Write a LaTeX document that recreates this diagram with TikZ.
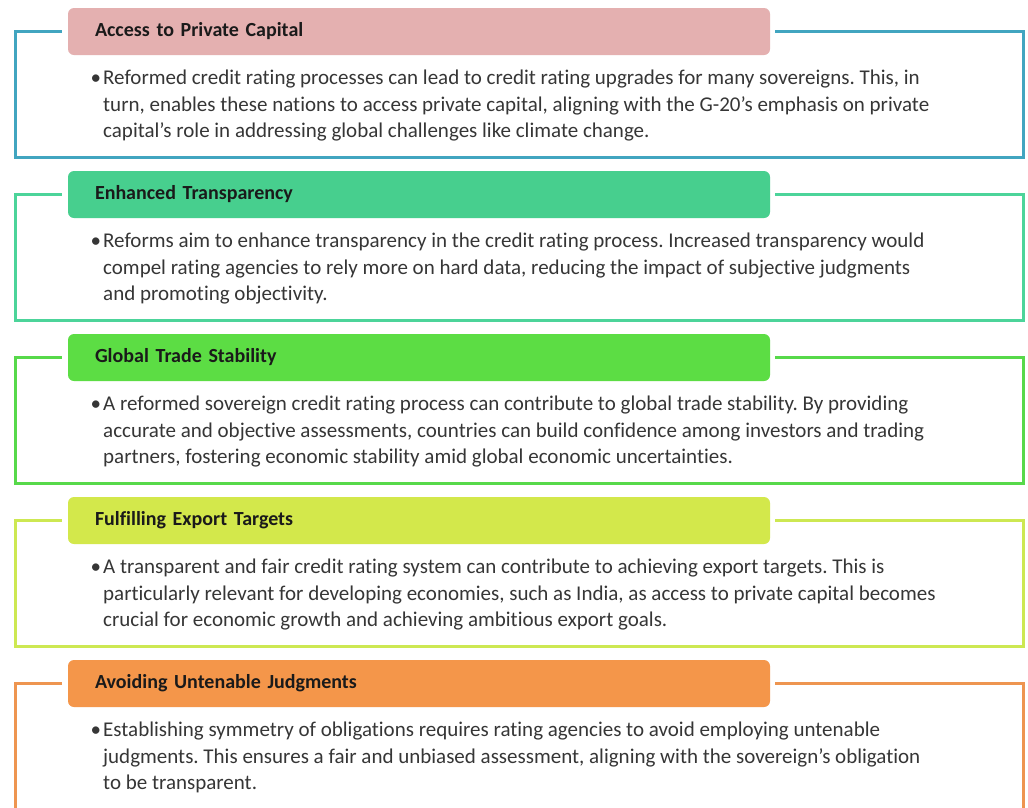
\documentclass[tikz,border=0pt]{standalone}
\usepackage{fontspec}
\setmainfont{Carlito}[Ligatures={NoCommon}]
\frenchspacing
\definecolor{fA}{HTML}{41A5C0}\definecolor{hA}{HTML}{E4B0B0}
\definecolor{fB}{HTML}{4CD49A}\definecolor{hB}{HTML}{47CF8E}
\definecolor{fC}{HTML}{57D94A}\definecolor{hC}{HTML}{5CDD44}
\definecolor{fD}{HTML}{CDE852}\definecolor{hD}{HTML}{D3E84B}
\definecolor{fE}{HTML}{EE9550}\definecolor{hE}{HTML}{F4964A}
\definecolor{bodytxt}{HTML}{363636}
\definecolor{titletxt}{HTML}{1A1A1A}
\tikzset{
  header/.style={draw=none, fill=#1, rounded corners=6pt, minimum width=702pt, minimum height=47pt,
    text width=648pt, inner xsep=27pt, align=left, font=\fontsize{20}{22}\selectfont\bfseries, text=titletxt},
  bodytext/.style={anchor=north west, inner sep=0pt, align=left, text=bodytxt,
    font=\fontsize{21}{26.5}\selectfont\frenchspacing},
  frame/.style={draw=#1, line width=3pt}
}
\newcommand\mypanel[6]{%
  \node[header=#4] (h#1) at (419,31.5+#2) {#5};
  \node[bodytext] (b#1) at (103,66.2+#2) {\strut\llap{\textbullet\hspace{2pt}}#6};
  \draw[frame=#3] ([xshift=-6pt]h#1.west) -- (15,31.5+#2) -- (15,157+#2) -- (1023,157+#2) -- (1023,31.5+#2) -- ([xshift=5pt]h#1.east);
}
\begin{document}
\begin{tikzpicture}[x=1pt,y=-1pt]
\useasboundingbox (0,0) rectangle (1028,807);
\clip (0,0) rectangle (1028,807);
\fill[white] (0,0) rectangle (1028,807);
\mypanel{1}{0}{fA}{hA}{Access to Private Capital}{Reformed credit rating processes can lead to credit rating upgrades for many sovereigns. This, in\\turn, enables these nations to access private capital, aligning with the G-20's emphasis on private\\capital's role in addressing global challenges like climate change.}
\mypanel{2}{163}{fB}{hB}{Enhanced Transparency}{Reforms aim to enhance transparency in the credit rating process. Increased transparency would\\compel rating agencies to rely more on hard data, reducing the impact of subjective judgments\\and promoting objectivity.}
\mypanel{3}{326}{fC}{hC}{Global Trade Stability}{A reformed sovereign credit rating process can contribute to global trade stability. By providing\\accurate and objective assessments, countries can build confidence among investors and trading\\partners, fostering economic stability amid global economic uncertainties.}
\mypanel{4}{489}{fD}{hD}{Fulfilling Export Targets}{A transparent and fair credit rating system can contribute to achieving export targets. This is\\particularly relevant for developing economies, such as India, as access to private capital becomes\\crucial for economic growth and achieving ambitious export goals.}
\mypanel{5}{652}{fE}{hE}{Avoiding Untenable Judgments}{Establishing symmetry of obligations requires rating agencies to avoid employing untenable\\judgments. This ensures a fair and unbiased assessment, aligning with the sovereign's obligation\\to be transparent.}
\end{tikzpicture}
\end{document}
